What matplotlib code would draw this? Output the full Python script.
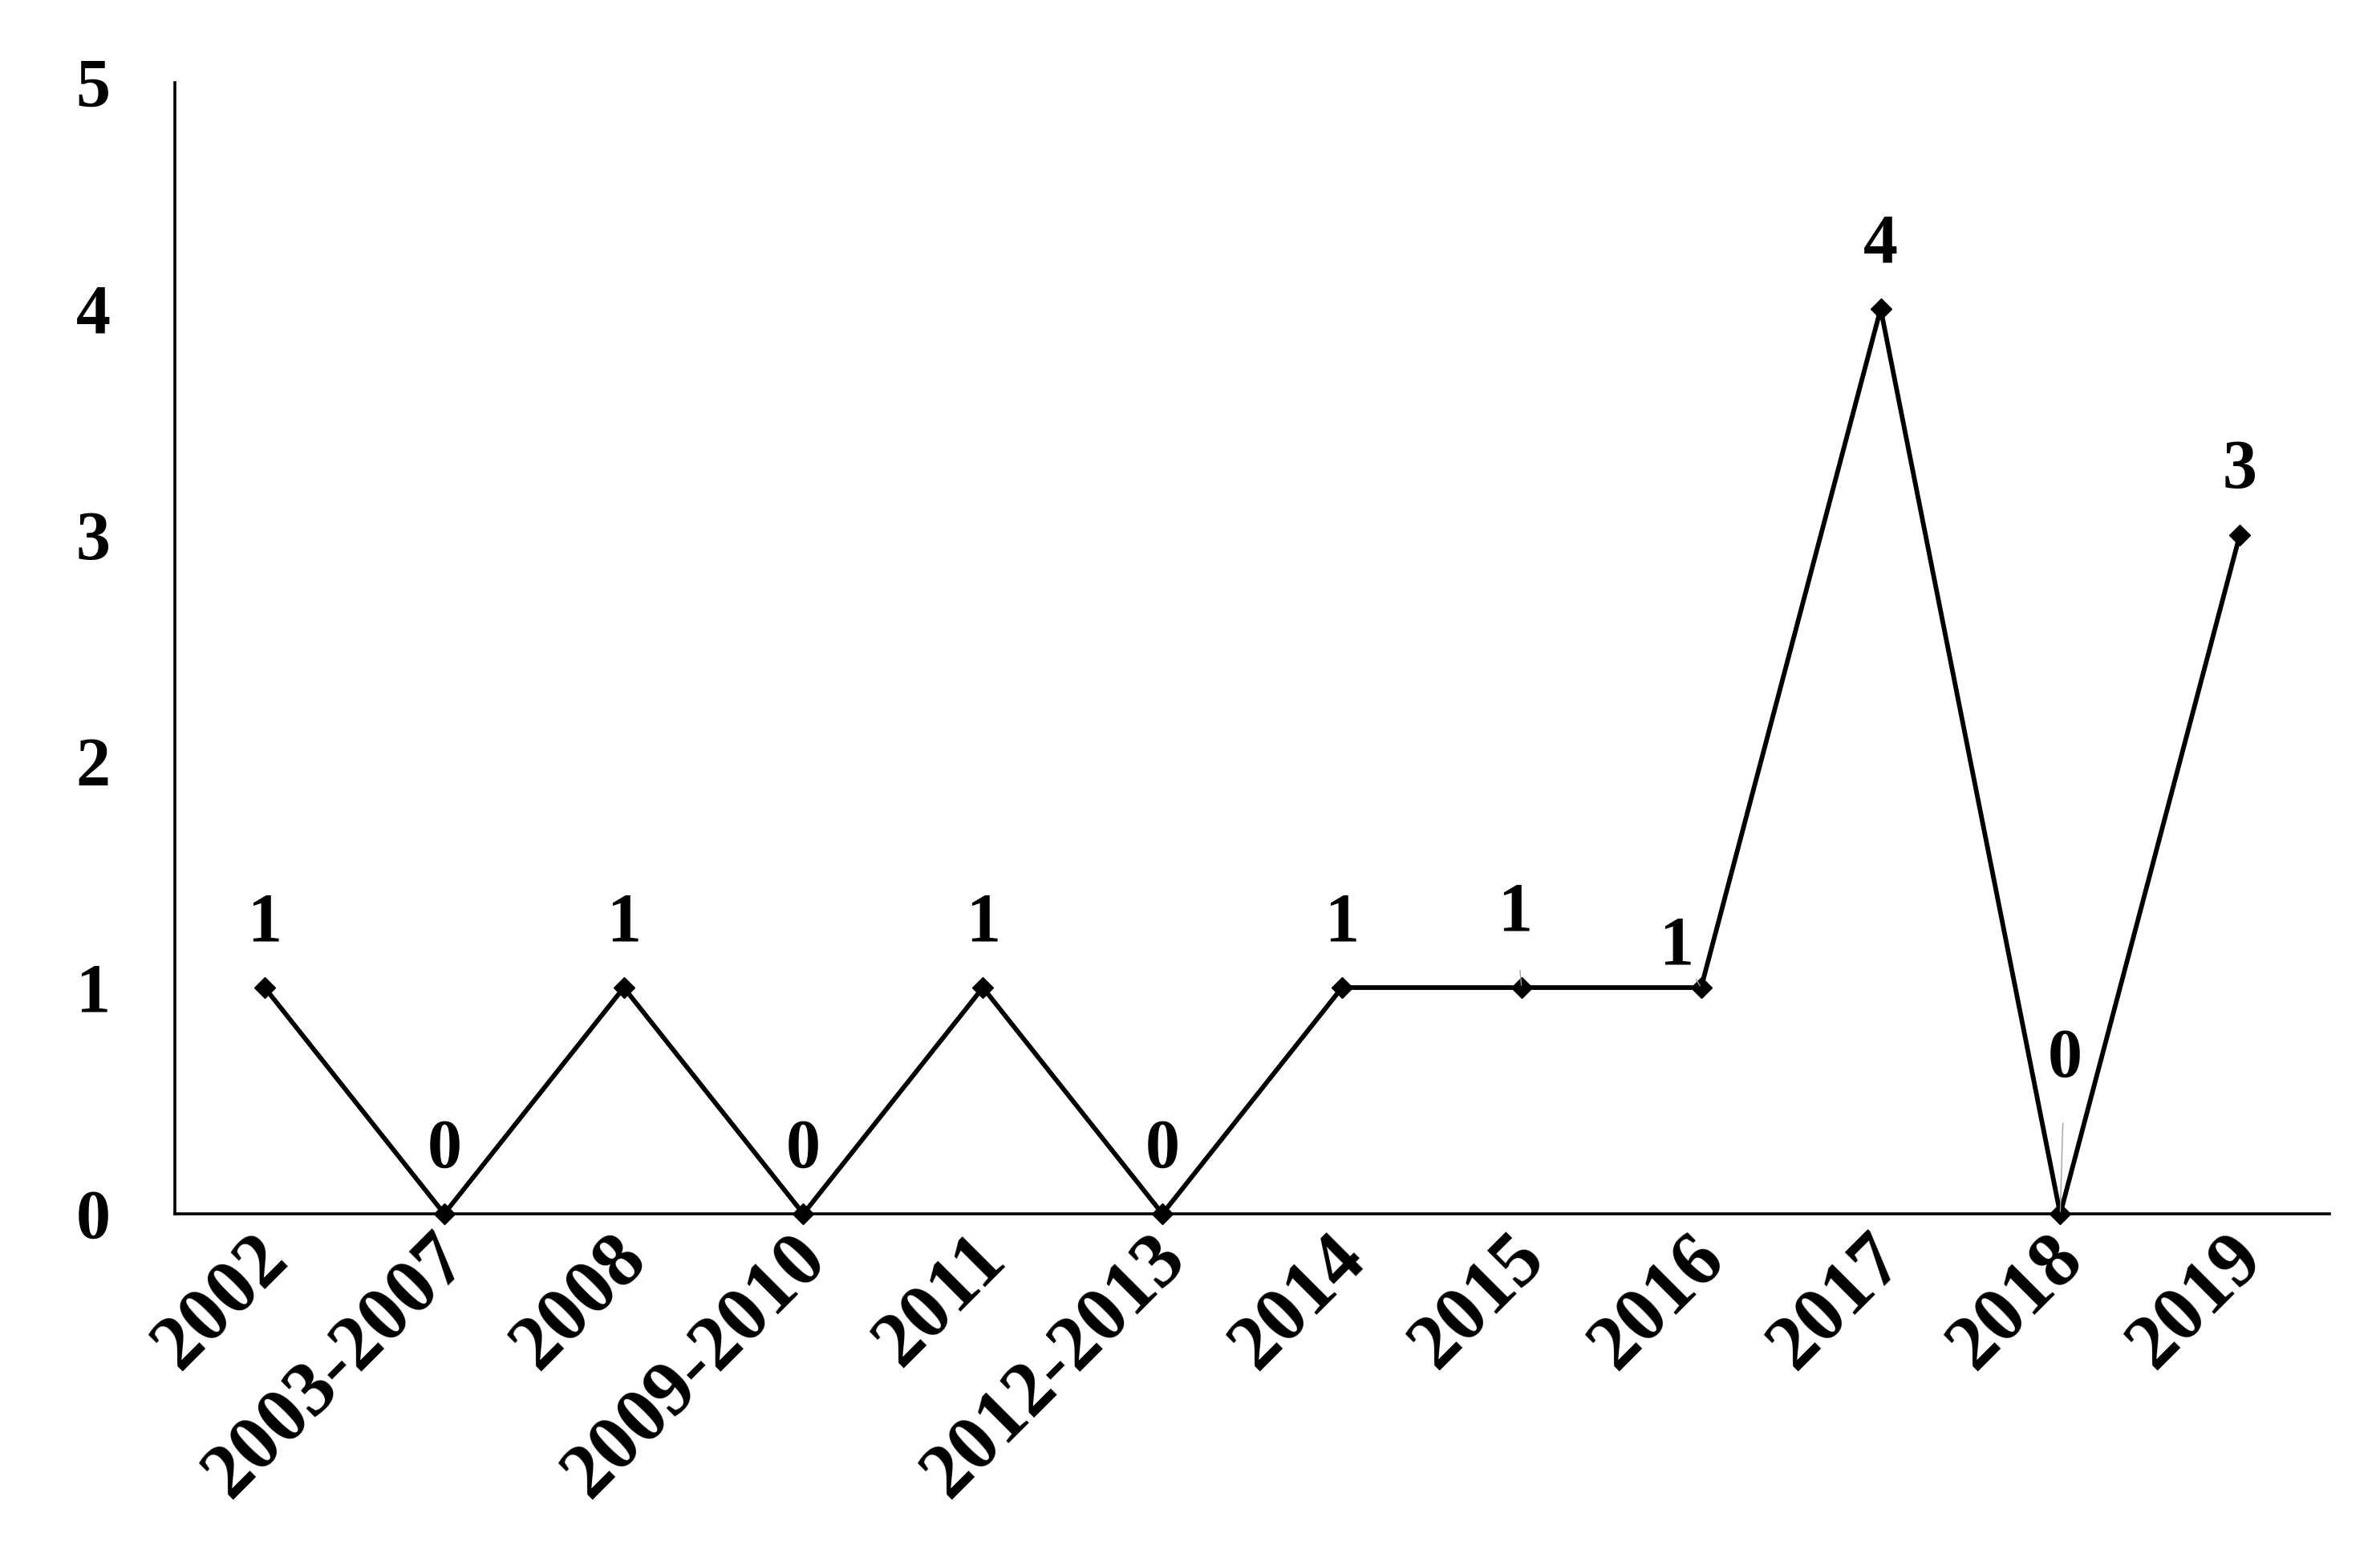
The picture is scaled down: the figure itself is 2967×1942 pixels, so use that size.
import matplotlib
matplotlib.use("Agg")
import matplotlib.pyplot as plt
import matplotlib.transforms as mtransforms

categories = ["2002", "2003-2007", "2008", "2009-2010", "2011", "2012-2013",
              "2014", "2015", "2016", "2017", "2018", "2019"]
values = [1, 0, 1, 0, 1, 0, 1, 1, 1, 4, 0, 3]
y_ticks = [0, 1, 2, 3, 4, 5]

plt.rcParams['font.family'] = ['Liberation Serif', 'DejaVu Serif']
plt.rcParams['font.weight'] = 'bold'

fig = plt.figure(figsize=(29.67, 19.42), dpi=100)
ax = fig.add_axes([0.0735, 0.2209, 0.9053, 0.7261])

x = list(range(len(categories)))
ax.plot(x, values, color='black', lw=4.2, marker='D', markersize=13,
        markerfacecolor='black', markeredgecolor='black', clip_on=False, zorder=3)

ax.set_xlim(-0.5, len(categories) - 0.5)
ax.set_ylim(0, 5)
ax.set_yticks(y_ticks)
ax.set_yticklabels([str(t) for t in y_ticks], fontsize=62, fontweight='bold')
ax.set_xticks(x)
ax.set_xticklabels(categories, fontsize=70, fontweight='bold', rotation=45,
                   ha='right', va='center', rotation_mode='anchor')
ax.tick_params(axis='both', length=0)
ax.tick_params(axis='y', pad=58)
ax.tick_params(axis='x', pad=30)
offset = mtransforms.ScaledTranslation(0.15, 0, fig.dpi_scale_trans)
for lab in ax.get_xticklabels():
    lab.set_transform(lab.get_transform() + offset)

for s in ['top', 'right']:
    ax.spines[s].set_visible(False)
for s in ['left', 'bottom']:
    ax.spines[s].set_linewidth(2.6)
    ax.spines[s].set_color('black')

# data labels
special = {7: (-6, 66, 20), 8: (-22, 36, 14), 10: (4, 138, 26)}
for i, v in enumerate(values):
    if i in special:
        dx, dy, sh = special[i]
        ax.annotate(str(v), xy=(i, v), xytext=(dx, dy), textcoords='offset points',
                    ha='center', va='center', fontsize=62, fontweight='bold',
                    arrowprops=dict(arrowstyle='-', color='#a0a0a0', lw=1.0,
                                    shrinkA=sh, shrinkB=2))
    else:
        ax.annotate(str(v), xy=(i, v), xytext=(0, 57), textcoords='offset points',
                    ha='center', va='center', fontsize=62, fontweight='bold')

fig.savefig("out.png", dpi=100)
